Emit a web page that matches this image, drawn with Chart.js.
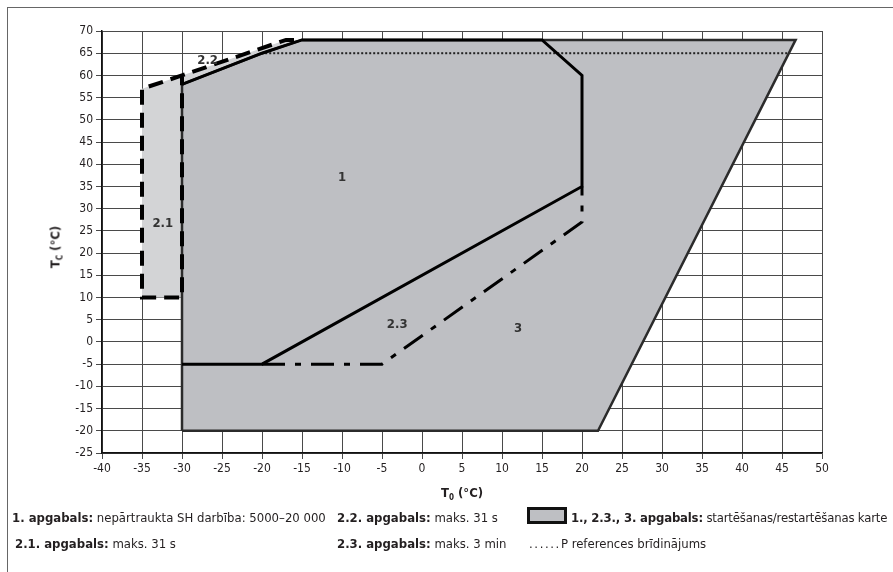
<!DOCTYPE html>
<html lang="lv">
<head>
  <meta charset="UTF-8">
  <title>Darbības karte</title>
  <script src="https://cdn.jsdelivr.net/npm/chart.js"></script>
  <style>
    * { box-sizing: border-box; }
    body { margin: 0; background: #fff; width: 893px; height: 572px; overflow: hidden; position: relative; font-family: 'DejaVu Sans Condensed', 'Roboto', sans-serif; color: #231f20; }
    #wrap { position: absolute; left: 0; top: 0; width: 893px; height: 572px; }
    .frame { position: absolute; left: 7px; top: 7px; width: 900px; height: 600px; border-left: 1px solid #666; border-top: 1px solid #666; }
    .ytitle { position: absolute; left: 56px; top: 247px; transform: translate(-50%, -50%) rotate(-90deg); font-weight: bold; font-size: 13px; white-space: nowrap; }
    .xtitle { position: absolute; left: 462px; top: 493px; transform: translate(-50%, -50%); font-weight: bold; font-size: 13px; white-space: nowrap; }
    sub { font-size: 8px; vertical-align: -3px; }
    .lg { position: absolute; font-size: 13px; white-space: nowrap; transform: translateY(-50%); }
    .lg b { font-weight: bold; }
    .swatch { position: absolute; left: 527px; top: 507px; width: 40px; height: 17px; background: #bebfc3; border: 3px solid #111; }
  </style>
</head>
<body>
  <div class="frame"></div>
  <div id="wrap"><canvas id="chart" width="893" height="572"></canvas></div>
  <div class="ytitle">T<sub>C</sub> (°C)</div>
  <div class="xtitle">T<sub>0</sub> (°C)</div>
  <div class="lg" style="left:12px; top:517px;"><b>1. apgabals:</b> nepārtraukta SH darbība: 5000–20 000</div>
  <div class="lg" style="left:337px; top:517px;"><b>2.2. apgabals:</b> maks. 31 s</div>
  <div class="swatch"></div>
  <div class="lg" style="left:571px; top:517px; letter-spacing:-0.18px;"><b>1., 2.3., 3. apgabals:</b> startēšanas/restartēšanas karte</div>
  <div class="lg" style="left:15px; top:543px;"><b>2.1. apgabals:</b> maks. 31 s</div>
  <div class="lg" style="left:337px; top:543px;"><b>2.3. apgabals:</b> maks. 3 min</div>
  <div class="lg" style="left:529px; top:543px;"><span style="letter-spacing:1.6px;">......</span>P references brīdinājums</div>
  <script>
    // axis ranges
    const xMin = -40, xMax = 50, yMin = -25, yMax = 70, tickStep = 5;

    // outer envelope (regions 1, 2.3, 3)
    const outerT0 = [-30, -30, -20, -15, 46.7, 22, -30];
    const outerTc = [-20, 58, 65, 68, 68, -20, -20];

    // light area for regions 2.1 and 2.2
    const lightT0 = [-35, -35, -30, -17, -15, -20, -30, -30];
    const lightTc = [10, 57, 60, 68, 68, 65, 58, 10];

    // region 1 boundary
    const r1T0 = [-30, -20, 20, 20, 15, -15, -20, -30];
    const r1Tc = [-5, -5, 35, 60, 68, 68, 65, 58];

    // region 2.3 lower boundary (dash-dot)
    const r23T0 = [-20, -5, 20, 20];
    const r23Tc = [-5, -5, 27, 35];

    // regions 2.1 / 2.2 boundary (dashed)
    const r2T0 = [-16, -17, -30, -35, -35, -30, -30];
    const r2Tc = [68, 68, 60, 57, 10, 10, 60];

    // P reference warning (dotted)
    const warnT0 = [-19.6, 45.9];
    const warnTc = [65, 65];

    // region labels
    const regionNames = ['1', '2.1', '2.2', '2.3', '3'];
    const regionT0 = [-10, -32.4, -26.8, -3.1, 12];
    const regionTc = [37, 26.7, 63.3, 3.8, 3];

    const pts = (xs, ys) => xs.map((x, i) => ({ x, y: ys[i] }));
    const FONT = "'DejaVu Sans Condensed', 'Roboto', sans-serif";

    const regionLabels = {
      id: 'regionLabels',
      afterDatasetsDraw(chart) {
        const { ctx, scales: { x, y } } = chart;
        ctx.save();
        ctx.font = 'bold 13px ' + FONT;
        ctx.fillStyle = '#333';
        ctx.textAlign = 'center';
        ctx.textBaseline = 'middle';
        regionNames.forEach((n, i) => ctx.fillText(n, x.getPixelForValue(regionT0[i]), y.getPixelForValue(regionTc[i])));
        ctx.restore();
      }
    };

    const line = (data, extra) => Object.assign({ data, showLine: true, pointRadius: 0, pointHoverRadius: 0, fill: false, borderColor: '#000', tension: 0 }, extra);

    new Chart(document.getElementById('chart'), {
      type: 'scatter',
      data: {
        datasets: [
          line(pts(r2T0, r2Tc), { order: 0, borderWidth: 4, borderDash: [15, 8], borderCapStyle: 'butt' }),
          line(pts(r23T0, r23Tc), { order: 1, borderWidth: 3, borderDash: [23, 10, 6, 10] }),
          line(pts(r1T0, r1Tc), { order: 2, borderWidth: 3, borderJoinStyle: 'miter' }),
          line(pts(warnT0, warnTc), { order: 3, borderWidth: 2, borderDash: [2, 2], borderColor: '#222' }),
          line(pts(outerT0, outerTc), { order: 4, borderWidth: 2.5, borderColor: '#2b2b2b', backgroundColor: '#bebfc3', fill: 'shape' }),
          line(pts(lightT0, lightTc), { order: 5, borderWidth: 0, backgroundColor: '#d3d4d6', fill: 'shape' })
        ]
      },
      options: {
        responsive: false,
        animation: false,
        events: [],
        layout: { padding: { top: 31, right: 71, left: 0, bottom: 0 } },
        plugins: { legend: { display: false }, tooltip: { enabled: false } },
        scales: {
          x: {
            type: 'linear', min: xMin, max: xMax,
            ticks: { stepSize: tickStep, color: '#231f20', font: { family: FONT, size: 12 }, padding: 3, maxRotation: 0, autoSkip: false },
            grid: { color: '#4a4a4a', lineWidth: 1, tickLength: 6 },
            border: { color: '#111', width: 1.5 },
            afterFit: s => { s.height = 119; }
          },
          y: {
            type: 'linear', min: yMin, max: yMax,
            ticks: { stepSize: tickStep, color: '#231f20', font: { family: FONT, size: 12 }, padding: 3, autoSkip: false },
            grid: { color: '#4a4a4a', lineWidth: 1, tickLength: 6 },
            border: { color: '#111', width: 1.5 },
            afterFit: s => { s.width = 102; }
          }
        }
      },
      plugins: [regionLabels]
    });
  </script>
</body>
</html>
